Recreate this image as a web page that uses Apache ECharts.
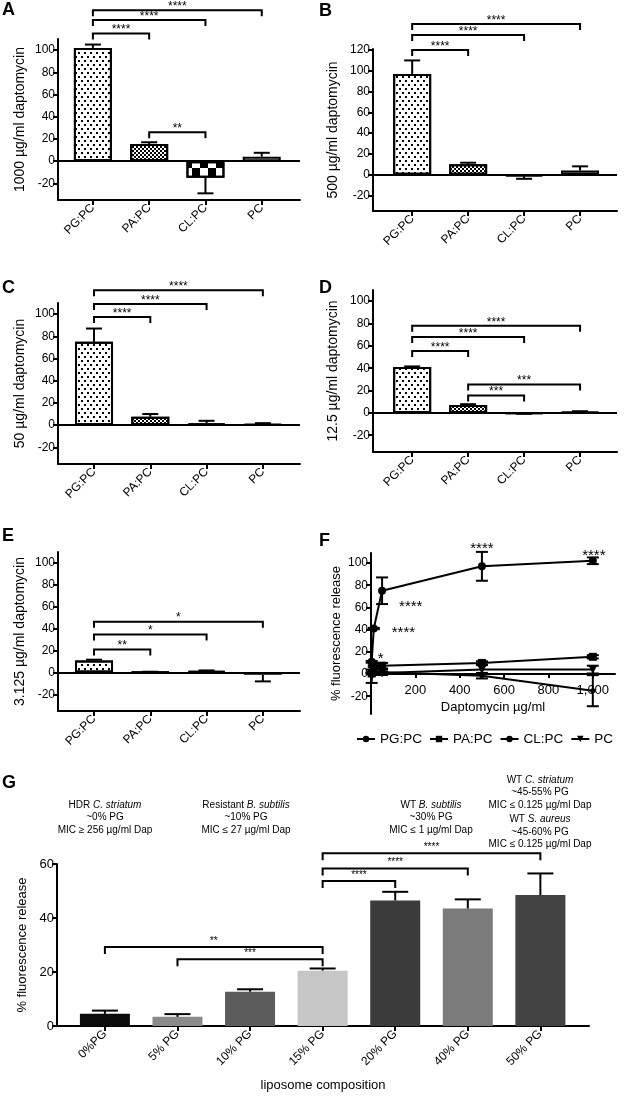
<!DOCTYPE html>
<html><head><meta charset="utf-8">
<script src="https://cdn.jsdelivr.net/npm/echarts@6/dist/echarts.min.js"></script>
<style>html,body{margin:0;padding:0;background:#fff}#c{width:626px;height:1096px}</style>
</head><body><div id="c"></div>
<script>
// ---------- DATA ----------
const lipids = ['PG:PC', 'PA:PC', 'CL:PC', 'PC'];
const concs = [3.125, 12.5, 50, 500, 1000];
const pgpc = [11, 41, 75, 97, 102];
const pgpcErr = [0.8, 0.6, 12, 13, 3];
const papc = [0.5, 7, 7.5, 10, 15.5];
const papcErr = [0.3, 0.8, 2.5, 1.5, 1.5];
const clpc = [1.5, -0.5, 1.5, -1.5, -15];
const clpcErr = [0.5, 0.3, 2.4, 2.5, 14];
const pc = [-2, 1, 1, 4, 4];
const pcErr = [6, 0.5, 0.8, 4, 3.5];

const yTicks100 = [-20, 0, 20, 40, 60, 80, 100];
const yTicks120 = [-20, 0, 20, 40, 60, 80, 100, 120];
const fXTicks = [200, 400, 600, 800, 1000];
const fYTicks = [-20, 0, 20, 40, 60, 80, 100];
const gYTicks = [0, 20, 40, 60];

// significance brackets: [fromCategory, toCategory, yValue]
const sigA = [[0, 3, 136], [0, 2, 127], [0, 1, 115], [1, 2, 26]];
const sigALabels = ['****', '****', '****', '**'];
const sigB = [[0, 3, 145], [0, 2, 134.5], [0, 1, 120]];
const sigBLabels = ['****', '****', '****'];
const sigC = [[0, 3, 121.5], [0, 2, 109], [0, 1, 97.5]];
const sigCLabels = ['****', '****', '****'];
const sigD = [[0, 3, 78], [0, 2, 68], [0, 1, 55.5], [1, 3, 25.5], [1, 2, 15.5]];
const sigDLabels = ['****', '****', '****', '***', '***'];
const sigE = [[0, 3, 46.5], [0, 2, 34.7], [0, 1, 21]];
const sigELabels = ['*', '*', '**'];

const fAnnot = ['*', '****', '****', '****', '****']; // on PG:PC points

const gCats = ['0%PG', '5% PG', '10% PG', '15% PG', '20% PG', '40% PG', '50% PG'];
const gVals = [4.5, 3.4, 12.7, 20.5, 46.5, 43.5, 48.5];
const gErr = [1.2, 1.0, 0.9, 0.8, 3.2, 3.4, 8];
const gColors = ['#0c0c0c', '#8a8a8a', '#5c5c5c', '#c6c6c6', '#3b3b3b', '#7b7b7b', '#424242'];
const gSig = [[0, 3, 29.3], [1, 3, 24.7], [3, 4, 53.7], [3, 5, 58.3], [3, 6, 64]];
const gSigLabels = ['**', '***', '****', '****', '****'];

// ---------- HELPERS ----------
const FONT = '"Liberation Sans", Arial, Helvetica, sans-serif';
const barVals = [pgpc, papc, clpc, pc];
const barErrs = [pgpcErr, papcErr, clpcErr, pcErr];

const decalDots = {symbol: 'rect', symbolSize: 1, color: '#000', dashArrayX: [[2, 4], [0, 3, 2, 1]], dashArrayY: [2, 2]};
const decalFine = {symbol: 'rect', symbolSize: 1, color: '#000', dashArrayX: [[2, 2], [0, 2, 2, 0]], dashArrayY: [2, 0]};
const decalBig = {symbol: 'rect', symbolSize: 1, color: '#000', dashArrayX: [[8, 8], [0, 8, 8, 0]], dashArrayY: [8, 0]};
const barStyles = [
  {color: '#fff', borderColor: '#000', borderWidth: 2, decal: decalDots},
  {color: '#fff', borderColor: '#000', borderWidth: 2, decal: decalFine},
  {color: '#fff', borderColor: '#000', borderWidth: 2, decal: decalBig},
  {color: '#fff', borderColor: '#000', borderWidth: 2}
];

function yAx(gi, min, max, ticks, name, nameGap, nameSize, labelSize) {
  return {
    type: 'value', gridIndex: gi, min: min, max: max,
    name: name, nameLocation: 'middle', nameGap: nameGap, nameRotate: 90,
    nameTextStyle: {fontSize: nameSize, fontFamily: FONT, color: '#000'},
    axisLine: {show: true, onZero: false, lineStyle: {color: '#000', width: 2}},
    axisTick: {show: true, length: 5, lineStyle: {width: 2, color: '#000'}, customValues: ticks},
    axisLabel: {color: '#000', fontSize: labelSize, fontFamily: FONT, margin: 3, customValues: ticks},
    splitLine: {show: false}
  };
}
function xCat(gi, min, max, cats) {
  const vals = cats.map((c, i) => i);
  return {
    type: 'value', gridIndex: gi, min: min, max: max,
    axisLine: {show: true, onZero: false, lineStyle: {color: '#000', width: 2}},
    axisTick: {show: true, length: 5, lineStyle: {width: 2, color: '#000'}, customValues: vals},
    axisLabel: {customValues: vals, rotate: 45, margin: 6, fontSize: 12, color: '#000', fontFamily: FONT,
      formatter: v => cats[Math.round(v)] || ''},
    splitLine: {show: false}
  };
}
function errBarSeries(gi, data, cap, both) {
  return {
    type: 'custom', xAxisIndex: gi, yAxisIndex: gi, clip: false, z: 4, silent: true,
    encode: {x: 0, y: 1}, data: data,
    renderItem(params, api) {
      const x = api.value(0), y = api.value(1), e = api.value(2);
      const s = y >= 0 ? 1 : -1;
      const p0 = api.coord([x, y]);
      const ph = api.coord([x, y + s * e]);
      const st = {stroke: '#000', lineWidth: 2};
      const ch = [
        {type: 'line', shape: {x1: p0[0], y1: p0[1], x2: ph[0], y2: ph[1]}, style: st},
        {type: 'line', shape: {x1: ph[0] - cap / 2, y1: ph[1], x2: ph[0] + cap / 2, y2: ph[1]}, style: st}
      ];
      if (both) {
        const pl = api.coord([x, y - s * e]);
        ch.push({type: 'line', shape: {x1: p0[0], y1: p0[1], x2: pl[0], y2: pl[1]}, style: st});
        ch.push({type: 'line', shape: {x1: pl[0] - cap / 2, y1: pl[1], x2: pl[0] + cap / 2, y2: pl[1]}, style: st});
      }
      return {type: 'group', children: ch};
    }
  };
}
function bracketSeries(gi, data, labels, drop, fs, dy) {
  return {
    type: 'custom', xAxisIndex: gi, yAxisIndex: gi, clip: false, z: 6, silent: true,
    encode: {x: [0, 1], y: 2}, data: data,
    renderItem(params, api) {
      const a = api.coord([api.value(0), api.value(2)]);
      const b = api.coord([api.value(1), api.value(2)]);
      return {type: 'group', children: [
        {type: 'polyline', shape: {points: [[a[0], a[1] + drop], [a[0], a[1]], [b[0], b[1]], [b[0], b[1] + drop]]},
          style: {stroke: '#000', lineWidth: 2, fill: 'none'}},
        {type: 'text', x: (a[0] + b[0]) / 2, y: a[1] + dy,
          style: {text: labels[params.dataIndex], fill: '#000', fontSize: fs, fontFamily: FONT, align: 'center', verticalAlign: 'middle'}}
      ]};
    }
  };
}
function letter(t, x, y) {
  return {type: 'text', x: x, y: y, style: {text: t, fill: '#000', fontSize: 18, fontWeight: 'bold', fontFamily: FONT, verticalAlign: 'top'}};
}

// ---------- LAYOUT ----------
const panels = [
  {ci: 4, letter: 'A', lx: 2, ly: 1, name: '1000 µg/ml daptomycin', gap: 31, grid: {left: 58, top: 39, width: 242, height: 161}, ymax: 110, ticks: yTicks100, xr: [-0.62, 3.68], sig: sigA, lab: sigALabels},
  {ci: 3, letter: 'B', lx: 319, ly: 2, name: '500 µg/ml daptomycin', gap: 33, grid: {left: 373, top: 49, width: 244, height: 162}, ymax: 121, ticks: yTicks120, xr: [-0.70, 3.66], sig: sigB, lab: sigBLabels},
  {ci: 2, letter: 'C', lx: 2, ly: 279, name: '50 µg/ml daptomycin', gap: 31, grid: {left: 58, top: 303, width: 242, height: 161}, ymax: 110, ticks: yTicks100, xr: [-0.64, 3.66], sig: sigC, lab: sigCLabels},
  {ci: 1, letter: 'D', lx: 319, ly: 279, name: '12.5 µg/ml daptomycin', gap: 33, grid: {left: 373, top: 290, width: 244, height: 162}, ymax: 110, ticks: yTicks100, xr: [-0.70, 3.66], sig: sigD, lab: sigDLabels},
  {ci: 0, letter: 'E', lx: 2, ly: 527, name: '3.125 µg/ml daptomycin', gap: 31, grid: {left: 58, top: 552, width: 242, height: 159}, ymax: 110, ticks: yTicks100, xr: [-0.64, 3.66], sig: sigE, lab: sigELabels}
];

const grids = [], xAxes = [], yAxes = [], series = [], graphics = [];

panels.forEach((p, gi) => {
  grids.push(Object.assign({containLabel: false}, p.grid));
  xAxes.push(xCat(gi, p.xr[0], p.xr[1], lipids));
  yAxes.push(yAx(gi, -35, p.ymax, p.ticks, p.name, p.gap, 14, 12));
  series.push({
    type: 'bar', xAxisIndex: gi, yAxisIndex: gi, barWidth: 38, z: 2, silent: true,
    data: lipids.map((l, i) => ({value: [i, barVals[i][p.ci]], itemStyle: barStyles[i]})),
    markLine: {silent: true, symbol: ['none', 'none'], label: {show: false},
      lineStyle: {color: '#000', width: 2, type: 'solid'}, data: [{yAxis: 0}]}
  });
  series.push(errBarSeries(gi, lipids.map((l, i) => [i, barVals[i][p.ci], barErrs[i][p.ci]]), 16, false));
  series.push(bracketSeries(gi, p.sig, p.lab, 6, 12, -3.5));
  graphics.push(letter(p.letter, p.lx, p.ly));
});

// ---------- PANEL F ----------
const F = 5;
const fGrid = {left: 371, top: 553, width: 244, height: 161};
const fYMin = -36, fYMax = 109;
grids.push(Object.assign({containLabel: false}, fGrid));
// x axis drawn at y = 0 (move it up from the grid bottom by the zero position)
const fZeroOffset = -fGrid.height * (0 - fYMin) / (fYMax - fYMin);
xAxes.push({
  type: 'value', gridIndex: F, min: 0, max: 1100, offset: fZeroOffset,
  name: 'Daptomycin µg/ml', nameLocation: 'middle', nameGap: 27,
  nameTextStyle: {fontSize: 13, fontFamily: FONT, color: '#000'},
  axisLine: {show: true, onZero: false, lineStyle: {color: '#000', width: 2}},
  axisTick: {show: true, length: 4, lineStyle: {width: 2, color: '#000'}, customValues: fXTicks},
  axisLabel: {customValues: fXTicks, fontSize: 13, color: '#000', fontFamily: FONT, margin: 10},
  splitLine: {show: false}
});
yAxes.push(yAx(F, fYMin, fYMax, fYTicks, '% fluorescence release', 28, 13, 12));
const fSeries = [
  {name: 'PG:PC', vals: pgpc, errs: pgpcErr, symbol: 'circle', size: 8, rot: 0},
  {name: 'PA:PC', vals: papc, errs: papcErr, symbol: 'rect', size: 8, rot: 0},
  {name: 'CL:PC', vals: clpc, errs: clpcErr, symbol: 'circle', size: 5, rot: 0},
  {name: 'PC', vals: pc, errs: pcErr, symbol: 'triangle', size: 9, rot: 180}
];
fSeries.forEach(s => {
  series.push({
    type: 'line', name: s.name, xAxisIndex: F, yAxisIndex: F, z: 5, silent: true,
    data: concs.map((c, i) => [c, s.vals[i]]),
    symbol: s.symbol, symbolSize: s.size, symbolRotate: s.rot, showSymbol: true,
    lineStyle: {color: '#000', width: 2}, itemStyle: {color: '#000'}
  });
  series.push(errBarSeries(F, concs.map((c, i) => [c, s.vals[i], s.errs[i]]), 12, true));
});
const fAnnotOffsets = [[6, -7], [18, 1], [17, 12.5], [0, -21.5], [1, -8.5]];
series.push({
  type: 'custom', xAxisIndex: F, yAxisIndex: F, clip: false, z: 7, silent: true,
  encode: {x: 0, y: 1}, data: concs.map((c, i) => [c, pgpc[i]]),
  renderItem(params, api) {
    const p = api.coord([api.value(0), api.value(1)]);
    const o = fAnnotOffsets[params.dataIndex];
    return {type: 'text', x: p[0] + o[0], y: p[1] + o[1] + 3.6,
      style: {text: fAnnot[params.dataIndex], fill: '#000', fontSize: 15, fontFamily: FONT,
        align: params.dataIndex < 3 ? 'left' : 'center', verticalAlign: 'middle'}};
  }
});
graphics.push(letter('F', 319, 532));

// ---------- PANEL G ----------
const G = 6;
grids.push({left: 57, top: 864, width: 532, height: 162, containLabel: false});
xAxes.push(Object.assign(xCat(G, -0.66, 6.67, gCats), {
  name: 'liposome composition', nameLocation: 'middle', nameGap: 53,
  nameTextStyle: {fontSize: 13, fontFamily: FONT, color: '#000'}
}));
yAxes.push(yAx(G, 0, 60, gYTicks, '% fluorescence release', 27, 13, 13));
series.push({
  type: 'bar', xAxisIndex: G, yAxisIndex: G, barWidth: 50, z: 2, silent: true,
  data: gCats.map((c, i) => ({value: [i, gVals[i]], itemStyle: {color: gColors[i]}}))
});
series.push(errBarSeries(G, gCats.map((c, i) => [i, gVals[i], gErr[i]]), 26, false));
series.push(bracketSeries(G, gSig, gSigLabels, 7, 10, -6));
graphics.push(letter('G', 2, 774));

const gNotes = [
  {x: 105, y: 805, lines: ['HDR {i|C. striatum}', '~0% PG', 'MIC ≥ 256 µg/ml Dap']},
  {x: 246, y: 805, lines: ['Resistant {i|B. subtilis}', '~10% PG', 'MIC ≤ 27 µg/ml Dap']},
  {x: 431, y: 805, lines: ['WT {i|B. subtilis}', '~30% PG', 'MIC ≤ 1 µg/ml Dap']},
  {x: 540, y: 780, lines: ['WT {i|C. striatum}', '~45-55% PG', 'MIC ≤ 0.125 µg/ml Dap', 'WT {i|S. aureus}', '~45-60% PG', 'MIC ≤ 0.125 µg/ml Dap']}
];
gNotes.forEach(n => {
  n.lines.forEach((t, k) => {
    const yy = n.y + k * 12.6 + (k >= 3 ? 1.5 : 0);
    graphics.push({type: 'text', x: n.x, y: yy, style: {
      text: t, fill: '#000', fontSize: 10, fontFamily: FONT, align: 'center', verticalAlign: 'middle',
      rich: {i: {fontStyle: 'italic', fontSize: 10, fontFamily: FONT, fill: '#000'}}
    }});
  });
});

const chart = echarts.init(document.getElementById('c'), null, {renderer: 'canvas', width: 626, height: 1096});
chart.setOption({
  animation: false,
  backgroundColor: '#fff',
  textStyle: {fontFamily: FONT},
  grid: grids, xAxis: xAxes, yAxis: yAxes,
  legend: {
    data: lipids, left: 351, top: 727, width: 400, itemWidth: 18, itemHeight: 8, itemGap: 7,
    textStyle: {fontSize: 13.5, color: '#000', fontFamily: FONT}, selectedMode: false
  },
  series: series,
  graphic: graphics
});
</script>
</body></html>
